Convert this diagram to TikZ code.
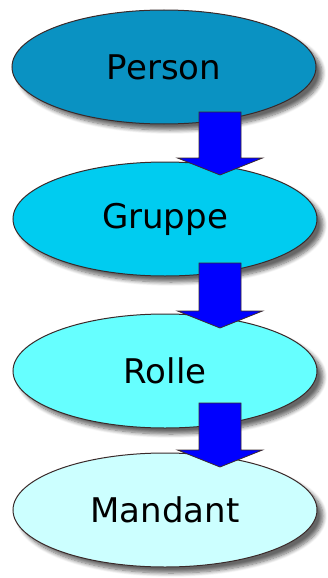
\documentclass[tikz,border=0pt]{standalone}
\usepackage{fontspec}
\setmainfont{DejaVu Sans}
\usetikzlibrary{shapes.geometric,shadows.blur}
\definecolor{cPerson}{HTML}{0A92C2}
\definecolor{cGruppe}{HTML}{00CCF0}
\definecolor{cRolle}{HTML}{66FFFF}
\definecolor{cMandant}{HTML}{CCFFFF}
\definecolor{cEdge}{HTML}{3A2A2A}
\definecolor{cArrow}{HTML}{0000FF}
\begin{document}
\begin{tikzpicture}[x=1pt,y=-1pt,
  ent/.style={ellipse, draw=cEdge, line width=1pt, minimum width=304pt, minimum height=114pt, inner sep=0pt,
    font=\fontsize{34}{40}\selectfont,
    blur shadow={shadow xshift=6pt, shadow yshift=-6pt, shadow opacity=60, shadow blur steps=8, shadow blur radius=4pt}},
  flow/.style={draw=cEdge, line width=0.8pt, fill=cArrow, line join=miter},
  blockarrow/.pic={\path[flow] (-21,0) -- (21,0) -- (21,#1-17) -- (42.5,#1-17) -- (0,#1) -- (-42.5,#1-17) -- (-21,#1-17) -- cycle;}]
\useasboundingbox (0,0) rectangle (327,578);
\node[ent, fill=cPerson] (person) at (164,67) {Person};
\node[ent, fill=cGruppe] (gruppe) at (165,219) {Gruppe};
\coordinate (a1) at (220,112);
\pic at (a1) {blockarrow=63};
\node[ent, fill=cRolle] (rolle) at (165,371) {Rolle};
\coordinate (a2) at (220,263);
\pic at (a2) {blockarrow=65};
\node[ent, fill=cMandant] (mandant) at (165,510) {Mandant};
\coordinate (a3) at (220,403);
\pic at (a3) {blockarrow=64};
\end{tikzpicture}
\end{document}
